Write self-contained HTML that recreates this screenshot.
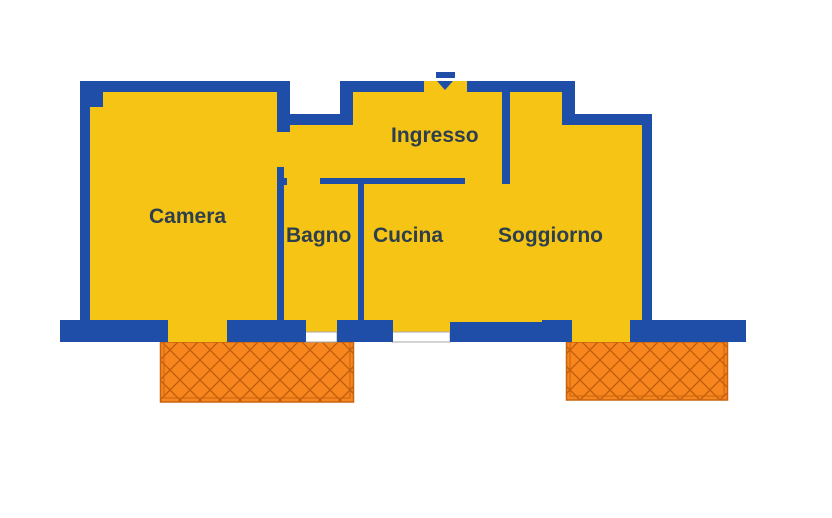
<!DOCTYPE html>
<html><head><meta charset="utf-8"><style>
html,body{margin:0;padding:0;background:#fff;}
svg{display:block;}
text{font-family:"Liberation Sans",sans-serif;font-weight:bold;font-size:21px;fill:#2d3e4e;}
</style></head><body>
<svg width="832" height="518" viewBox="0 0 832 518" xmlns="http://www.w3.org/2000/svg">
<defs>
<pattern id="h" width="20" height="20" patternUnits="userSpaceOnUse">
<rect width="20" height="20" fill="#f7861e"/>
<path d="M0 0L20 20M20 0L0 20" stroke="#c05c0c" stroke-width="1.3"/>
</pattern>
</defs>
<rect x="160.5" y="342" width="193" height="60" fill="url(#h)" stroke="#c8630f" stroke-width="1.5"/>
<rect x="164" y="342" width="186" height="56" fill="none" stroke="#c8630f" stroke-width="1"/>
<rect x="566.5" y="342" width="161" height="58" fill="url(#h)" stroke="#c8630f" stroke-width="1.5"/>
<rect x="570" y="342" width="154" height="54" fill="none" stroke="#c8630f" stroke-width="1"/>
<polygon points="80,81 290,81 290,114 340,114 340,81 575,81 575,114 652,114 652,342 80,342" fill="#f5c414"/>
<rect x="305" y="332" width="32" height="10" fill="#fff" stroke="#aaa" stroke-width="1"/>
<rect x="392" y="332" width="58" height="10" fill="#fff" stroke="#aaa" stroke-width="1"/>
<g fill="#1f4ea8">
<rect x="80" y="81" width="10" height="240"/>
<rect x="80" y="81" width="210" height="11"/>
<rect x="90" y="92" width="13" height="15"/>
<rect x="277" y="81" width="13" height="51"/>
<rect x="290" y="114" width="63" height="11"/>
<rect x="340" y="81" width="13" height="44"/>
<rect x="340" y="81" width="84" height="11"/>
<rect x="467" y="81" width="108" height="11"/>
<rect x="562" y="81" width="13" height="44"/>
<rect x="562" y="114" width="90" height="11"/>
<rect x="642" y="114" width="10" height="207"/>
<rect x="60" y="320" width="108" height="22"/>
<rect x="227" y="320" width="79" height="22"/>
<rect x="337" y="320" width="56" height="22"/>
<rect x="450" y="322" width="122" height="20"/>
<rect x="542" y="320" width="30" height="22"/>
<rect x="630" y="320" width="116" height="22"/>
<rect x="277" y="167" width="7" height="154"/>
<rect x="283" y="178" width="4" height="7"/>
<rect x="320" y="178" width="145" height="6"/>
<rect x="358" y="178" width="6" height="143"/>
<rect x="502" y="92" width="8" height="92"/>
<rect x="436" y="72" width="19" height="6"/>
<polygon points="437,81 453,81 445,90"/>
</g>
<text x="149" y="223">Camera</text>
<text x="286" y="242">Bagno</text>
<text x="373" y="242">Cucina</text>
<text x="498" y="242">Soggiorno</text>
<text x="391" y="142">Ingresso</text>
</svg>
</body></html>
